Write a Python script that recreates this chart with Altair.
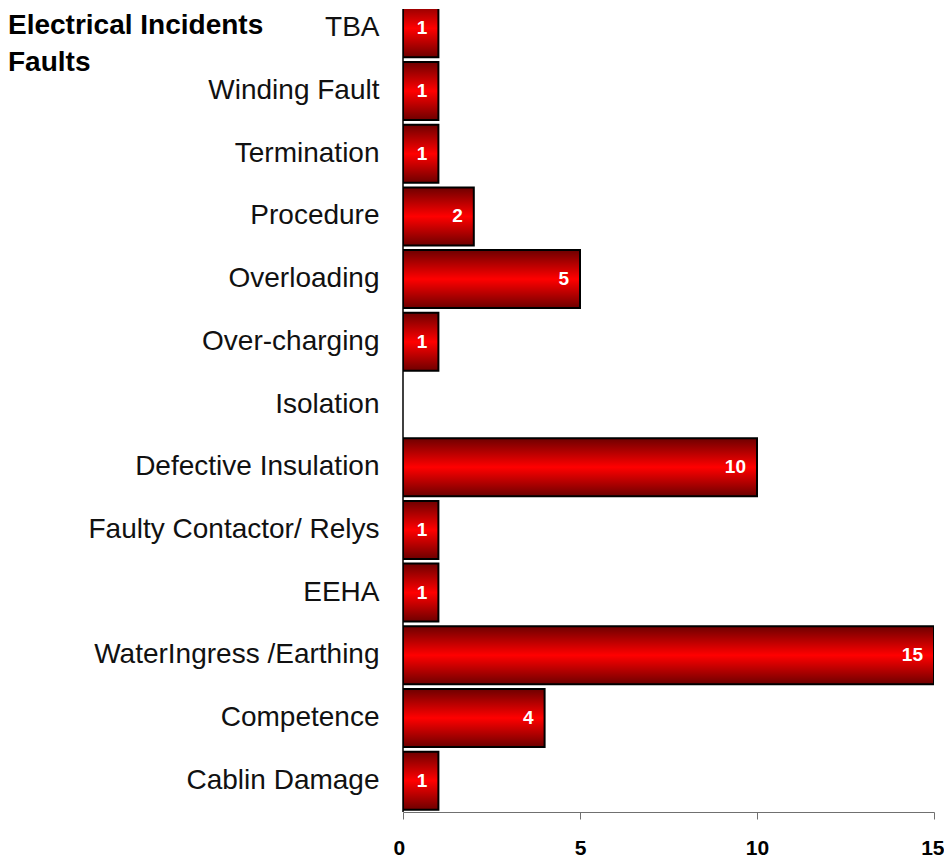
import altair as alt
import pandas as pd

categories = ["TBA", "Winding Fault", "Termination", "Procedure", "Overloading",
              "Over-charging", "Isolation", "Defective Insulation",
              "Faulty Contactor/ Relys", "EEHA", "WaterIngress /Earthing",
              "Competence", "Cablin Damage"]
counts = [1, 1, 1, 2, 5, 1, None, 10, 1, 1, 15, 4, 1]
title_lines = ["Electrical Incidents", "Faults"]
x_ticks = [0, 5, 10, 15]

df = pd.DataFrame({"cat": categories, "n": counts})

W, H = 531, 803
FONT = "Liberation Sans"

yenc = alt.Y("cat:N", sort=categories,
             scale=alt.Scale(range=[-12, 803], paddingInner=0.075, paddingOuter=0.0375),
             axis=alt.Axis(title=None, domain=False, ticks=False, labelFont=FONT,
                           labelFontSize=28, labelColor="#111", labelPadding=24,
                           labelLimit=400))
xenc = alt.X("n:Q", scale=alt.Scale(domain=[0, 15], nice=False),
             axis=alt.Axis(title=None, values=x_ticks, grid=False, domainColor="#707070",
                           tickColor="#707070", tickSize=7, labelFont=FONT,
                           labelFontSize=21, labelFontWeight="bold", labelColor="#000",
                           labelPadding=18, labelFlush=True, labelFlushOffset=10))

grad = alt.Gradient(gradient="linear", x1=0, y1=0, x2=0, y2=1,
                    stops=[alt.GradientStop(color="#6e0000", offset=0),
                           alt.GradientStop(color="#ff0000", offset=0.5),
                           alt.GradientStop(color="#6e0000", offset=1)])

base = alt.Chart(df)
bars = base.mark_bar(color=grad, stroke="#000", strokeWidth=2, clip=True).encode(
    x=xenc, y=yenc)
labels = base.transform_filter("datum.n > 0").mark_text(
    align="right", baseline="middle", dx=-11, font=FONT, fontSize=19,
    fontWeight="bold", color="white", clip=True).encode(
    x=alt.X("n:Q"), y=alt.Y("cat:N", sort=categories), text="n:Q")
yline = alt.Chart(pd.DataFrame({"a": [0]})).mark_rule(color="#000", strokeWidth=1.5).encode(
    x=alt.value(0), y=alt.value(0), y2=alt.value(H))
title = alt.Chart(pd.DataFrame({"t": [title_lines]})).mark_text(
    align="left", baseline="alphabetic", font=FONT, fontSize=28, fontWeight="bold",
    lineHeight=37, color="#000").encode(
    x=alt.value(-395), y=alt.value(25), text="t")

chart = alt.layer(bars, labels, yline, title).properties(
    width=W, height=H, padding=0
).configure_view(stroke=None)

chart.save("out.html", embed_options={"renderer": "svg", "actions": False})
